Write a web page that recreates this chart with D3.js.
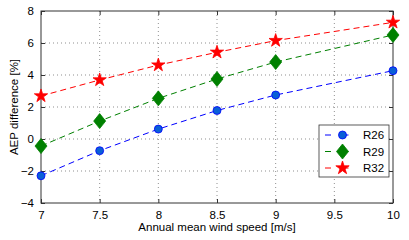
<!DOCTYPE html>
<html>
<head>
<meta charset="utf-8">
<script src="https://cdn.jsdelivr.net/npm/d3@7"></script>
<style>
  body { margin: 0; background: #fff; }
  text { font-family: "Liberation Sans", Arial, sans-serif; }
</style>
</head>
<body>
<div id="chart"></div>
<script>
// Data
const windSpeed = [7, 7.5, 8, 8.5, 9, 10];
const r26 = [-2.3, -0.73, 0.62, 1.78, 2.75, 4.27];
const r29 = [-0.44, 1.12, 2.54, 3.75, 4.81, 6.5];
const r32 = [2.69, 3.69, 4.62, 5.42, 6.15, 7.29];
const xTicks = [7, 7.5, 8, 8.5, 9, 9.5, 10];
const yTicks = [-4, -2, 0, 2, 4, 6, 8];

const series = [
  {name: "R26", values: r26, color: "#0000ff", fill: "#0a5fd6", shape: "circle"},
  {name: "R29", values: r29, color: "#008000", fill: "#008000", shape: "diamond"},
  {name: "R32", values: r32, color: "#ff0000", fill: "#ff0000", shape: "star"}
];

const width = 409, height = 240;
const margin = {top: 11, right: 16, bottom: 37, left: 41};
const innerW = width - margin.left - margin.right,
  innerH = height - margin.top - margin.bottom;

const svg = d3.select("#chart").append("svg")
  .attr("width", width)
  .attr("height", height);

const g = svg.append("g")
  .attr("transform", "translate(" + margin.left + "," + margin.top + ")");

const x = d3.scaleLinear().domain([7, 10]).range([0, innerW]);
const y = d3.scaleLinear().domain([-4, 8]).range([innerH, 0]);

// grid
g.append("g").selectAll("line")
  .data(xTicks.slice(1, -1))
  .enter().append("line")
  .attr("x1", d => x(d)).attr("x2", d => x(d))
  .attr("y1", 0).attr("y2", innerH)
  .style("stroke", "#444").style("stroke-width", 0.6)
  .style("stroke-dasharray", "1,3");

g.append("g").selectAll("line")
  .data(yTicks.slice(1, -1))
  .enter().append("line")
  .attr("y1", d => y(d)).attr("y2", d => y(d))
  .attr("x1", 0).attr("x2", innerW)
  .style("stroke", "#444").style("stroke-width", 0.6)
  .style("stroke-dasharray", "1,3");

// axes (ticks inside)
const xAxis = d3.axisBottom(x).tickValues(xTicks).tickSize(-4).tickPadding(8)
  .tickFormat(d3.format("~g"));
const xAxisTop = d3.axisTop(x).tickValues(xTicks).tickSize(-4).tickFormat("");
const yAxis = d3.axisLeft(y).tickValues(yTicks).tickSize(-4).tickPadding(7);
const yAxisRight = d3.axisRight(y).tickValues(yTicks).tickSize(-4).tickFormat("");

function styleAxis(sel) {
  sel.select(".domain").remove();
  sel.selectAll("line").style("stroke", "#333");
  sel.selectAll("text").style("font-size", "11.5px").style("fill", "#000");
}

g.append("g").attr("transform", "translate(0," + innerH + ")").call(xAxis).call(styleAxis);
g.append("g").call(xAxisTop).call(styleAxis);
g.append("g").call(yAxis).call(styleAxis);
g.append("g").attr("transform", "translate(" + innerW + ",0)").call(yAxisRight).call(styleAxis);

g.append("rect")
  .attr("width", innerW).attr("height", innerH)
  .style("fill", "none").style("stroke", "#333").style("stroke-width", 1);

// labels
svg.append("text")
  .attr("x", margin.left + innerW / 2).attr("y", 231)
  .attr("text-anchor", "middle")
  .style("font-size", "11.5px")
  .text("Annual mean wind speed [m/s]");

svg.append("text")
  .attr("transform", "translate(17.5," + (margin.top + innerH / 2) + ") rotate(-90)")
  .attr("text-anchor", "middle")
  .style("font-size", "11.5px")
  .text("AEP difference [%]");

// markers
const symbolFor = {
  circle: d3.symbol().type(d3.symbolCircle).size(50),
  star: d3.symbol().type(d3.symbolStar).size(55)
};
function drawMarker(sel, s) {
  if (s.shape === "diamond") {
    sel.append("path")
      .attr("d", "M0,-7.5L6,0L0,7.5L-6,0Z")
      .style("fill", s.fill).style("stroke", s.color).style("stroke-width", 0.8);
  } else {
    sel.append("path")
      .attr("d", symbolFor[s.shape]())
      .style("fill", s.fill).style("stroke", s.color).style("stroke-width", 0.8);
  }
}

const line = d3.line()
  .x((d, i) => x(windSpeed[i]))
  .y(d => y(d));

series.forEach(function(s) {
  g.append("path")
    .datum(s.values)
    .attr("d", line)
    .style("fill", "none")
    .style("stroke", s.color)
    .style("stroke-width", 1)
    .style("stroke-dasharray", "6,4");

  g.append("g").selectAll("g")
    .data(s.values)
    .enter().append("g")
    .attr("transform", (d, i) => "translate(" + x(windSpeed[i]) + "," + y(d) + ")")
    .each(function() { drawMarker(d3.select(this), s); });
});

// Legend
const legend = svg.append("g").attr("transform", "translate(319,125)");
legend.append("rect")
  .attr("width", 70).attr("height", 52)
  .style("fill", "#fff").style("stroke", "#333").style("stroke-width", 0.8);

series.forEach(function(s, i) {
  const row = legend.append("g").attr("transform", "translate(0," + (10 + i * 16.5) + ")");
  row.append("line")
    .attr("x1", 6).attr("x2", 41)
    .style("stroke", s.color).style("stroke-width", 1)
    .style("stroke-dasharray", "6,11.5");
  const m = row.append("g").attr("transform", "translate(23.5,0)");
  drawMarker(m, s);
  row.append("text")
    .attr("x", 44).attr("y", 4)
    .style("font-size", "11.5px")
    .text(s.name);
});
</script>
</body>
</html>
